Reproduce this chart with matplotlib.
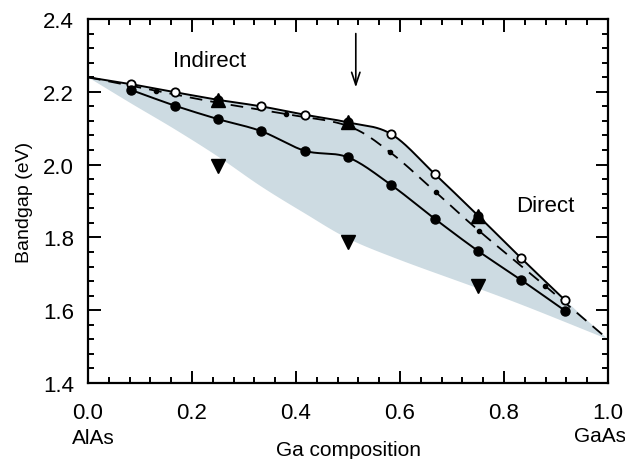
import numpy as np
import matplotlib
matplotlib.use("Agg")
import matplotlib.pyplot as plt
from matplotlib.ticker import MultipleLocator

plt.rcParams["font.family"] = ["Liberation Sans", "DejaVu Sans"]

# Ga fraction x in Al(1-x)Ga(x)As
x_calc = [0.083, 0.167, 0.25, 0.333, 0.417, 0.5, 0.583, 0.667, 0.75, 0.833, 0.917]
gap_open = [2.221, 2.199, 2.178, 2.160, 2.137, 2.116, 2.084, 1.974, 1.860, 1.743, 1.628]
gap_filled = [2.205, 2.162, 2.125, 2.092, 2.038, 2.020, 1.944, 1.851, 1.763, 1.683, 1.599]

# dashed reference curve and its small markers
x_dash = [0.0, 0.13, 0.25, 0.38, 0.5, 0.581, 0.669, 0.752, 0.879, 1.0]
gap_dash = [2.24, 2.203, 2.170, 2.139, 2.106, 2.034, 1.924, 1.818, 1.667, 1.52]
x_dash_pts = [0.13, 0.38, 0.581, 0.669, 0.752, 0.879]
gap_dash_pts = [2.203, 2.139, 2.034, 1.924, 1.818, 1.667]

# measured points
x_tri = [0.25, 0.5, 0.75]
gap_up = [2.178, 2.116, 1.860]
gap_down = [1.997, 1.788, 1.667]

# end members
gap_alas = 2.24
gap_gaas = 1.52

# lower edge of the shaded band
x_band_low = [0.0, 0.083, 0.167, 0.25, 0.333, 0.417, 0.5, 0.6, 0.75, 0.85, 1.0]
gap_band_low = [2.24, 2.168, 2.097, 2.022, 1.940, 1.866, 1.797, 1.738, 1.660, 1.606, 1.52]


def smooth(xs, ys, n=24):
    # uniform catmull-rom through the given points
    xs = np.asarray(xs, float); ys = np.asarray(ys, float)
    px = np.concatenate([[2 * xs[0] - xs[1]], xs, [2 * xs[-1] - xs[-2]]])
    py = np.concatenate([[2 * ys[0] - ys[1]], ys, [2 * ys[-1] - ys[-2]]])
    t = np.linspace(0, 1, n, endpoint=False)[:, None]
    out_x, out_y = [], []
    for i in range(1, len(px) - 2):
        for p, out in ((px, out_x), (py, out_y)):
            p0, p1, p2, p3 = p[i - 1], p[i], p[i + 1], p[i + 2]
            seg = 0.5 * (2 * p1 + (-p0 + p2) * t + (2 * p0 - 5 * p1 + 4 * p2 - p3) * t**2
                         + (-p0 + 3 * p1 - 3 * p2 + p3) * t**3)
            out.extend(seg.ravel())
    out_x.append(xs[-1]); out_y.append(ys[-1])
    return np.array(out_x), np.array(out_y)


fig = plt.figure(figsize=(6.25, 4.6), dpi=100)
ax = fig.add_axes([0.1408, 0.1652, 0.832, 0.7913])

ux, uy = smooth([0.0] + x_calc, [gap_alas] + gap_open)
lx, ly = smooth(x_calc, gap_filled)
dx, dy = smooth(x_dash, gap_dash)
bx, by = smooth(x_band_low, gap_band_low)

# shaded band: upper curve then on to GaAs, back along the lower edge
poly_x = np.concatenate([ux, [1.0], bx[::-1]])
poly_y = np.concatenate([uy, [gap_gaas], by[::-1]])
ax.fill(poly_x, poly_y, color="#cddbe2", lw=0, zorder=1)

ax.plot(ux, uy, color="black", lw=1.4, zorder=3)
ax.plot(lx, ly, color="black", lw=1.4, zorder=3)
ax.plot(dx, dy, color="black", lw=1.3, dashes=(7, 4.5), zorder=3)

ax.plot(x_calc, gap_open, "o", ms=6, mfc="white", mec="black", mew=1.3, zorder=4)
ax.plot(x_calc, gap_filled, "o", ms=6.5, color="black", zorder=4)
ax.plot(x_dash_pts, gap_dash_pts, "o", ms=3, color="black", zorder=4)
ax.plot(x_tri, gap_up, "^", ms=10, color="black", zorder=5)
ax.plot(x_tri, gap_down, "v", ms=10, color="black", zorder=5)

ax.annotate("", xy=(0.515, 2.212), xytext=(0.515, 2.36),
            arrowprops=dict(arrowstyle="->,head_length=0.9,head_width=0.3",
                            color="black", lw=1.2, shrinkA=0, shrinkB=0))

ax.text(0.233, 2.287, "Indirect", fontsize=16, ha="center", va="center")
ax.text(0.879, 1.889, "Direct", fontsize=16, ha="center", va="center")

ax.set_xlim(0, 1)
ax.set_ylim(1.4, 2.4)
ax.xaxis.set_major_locator(MultipleLocator(0.2))
ax.xaxis.set_minor_locator(MultipleLocator(0.04))
ax.yaxis.set_major_locator(MultipleLocator(0.2))
ax.yaxis.set_minor_locator(MultipleLocator(0.04))
ax.xaxis.set_major_formatter(plt.FormatStrFormatter("%.1f"))
ax.yaxis.set_major_formatter(plt.FormatStrFormatter("%.1f"))
ax.tick_params(which="both", direction="in", top=True, right=True, width=1.4, labelsize=16)
ax.tick_params(which="major", length=9)
ax.tick_params(which="minor", length=4)
ax.tick_params(axis="x", pad=14)
ax.tick_params(axis="y", pad=10)
for sp in ax.spines.values():
    sp.set_linewidth(1.6)

ax.set_ylabel("Bandgap (eV)", fontsize=14, labelpad=7)
ax.set_xlabel("Ga composition", fontsize=15, labelpad=12)
ax.text(0.01, -0.151, "AlAs", transform=ax.transAxes, fontsize=15, ha="center", va="center")
ax.text(0.985, -0.143, "GaAs", transform=ax.transAxes, fontsize=15, ha="center", va="center")

fig.savefig("out.png", dpi=100)
